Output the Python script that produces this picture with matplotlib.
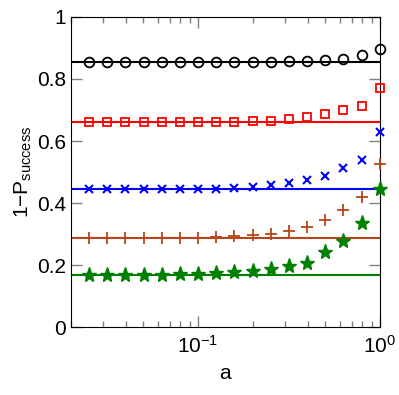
import numpy as np
import matplotlib
matplotlib.use("Agg")
import matplotlib.pyplot as plt

plt.rcParams['font.family'] = ['Liberation Sans', 'DejaVu Sans']
plt.rcParams['mathtext.fontset'] = 'custom'
plt.rcParams['mathtext.rm'] = 'Liberation Sans'

# sample points a = 10^-1.6 ... 10^0
a = [0.0251, 0.0316, 0.0398, 0.0501, 0.0631, 0.0794, 0.1, 0.1259, 0.1585,
     0.1995, 0.2512, 0.3162, 0.3981, 0.5012, 0.631, 0.7943, 1.0]

circles = [0.855, 0.855, 0.855, 0.855, 0.855, 0.855, 0.855, 0.855, 0.855,
           0.855, 0.855, 0.858, 0.859, 0.861, 0.866, 0.877, 0.897]
squares = [0.661, 0.661, 0.661, 0.661, 0.661, 0.661, 0.661, 0.661, 0.662,
           0.663, 0.665, 0.670, 0.678, 0.687, 0.699, 0.713, 0.772]
crosses = [0.444, 0.444, 0.444, 0.444, 0.444, 0.444, 0.444, 0.445, 0.448,
           0.452, 0.457, 0.464, 0.473, 0.487, 0.512, 0.539, 0.628]
pluses = [0.286, 0.286, 0.286, 0.286, 0.286, 0.286, 0.287, 0.289, 0.293,
          0.296, 0.301, 0.309, 0.322, 0.346, 0.377, 0.420, 0.525]
stars = [0.168, 0.168, 0.168, 0.168, 0.168, 0.170, 0.171, 0.173, 0.176,
         0.181, 0.186, 0.197, 0.206, 0.241, 0.278, 0.336, 0.445]

limits = [0.855, 0.661, 0.444, 0.286, 0.169]
colors = ['black', '#ff0000', '#0000ff', '#b8441a', '#008000']

fig = plt.figure(figsize=(3.99, 3.95), dpi=100)
ax = fig.add_axes([0.178, 0.172, 0.774, 0.785])

for y, c in zip(limits, colors):
    ax.axhline(y, color=c, lw=1.5, zorder=1)

ax.plot(a, circles, 'o', mfc='none', mec=colors[0], ms=7, mew=1.3, zorder=3, clip_on=False)
ax.plot(a, squares, 's', mfc='none', mec=colors[1], ms=6, mew=1.3, zorder=3, clip_on=False)
ax.plot(a, crosses, 'x', color=colors[2], ms=6, mew=1.5, zorder=3, clip_on=False)
ax.plot(a, pluses, '+', color=colors[3], ms=8, mew=1.3, zorder=3, clip_on=False)
ax.plot(a, stars, '*', color=colors[4], ms=11, mew=1.0, zorder=3, clip_on=False)

ax.set_xscale('log')
ax.set_xlim(0.02, 1)
ax.set_ylim(0, 1)
ax.set_yticks([0, 0.2, 0.4, 0.6, 0.8, 1])
ax.set_yticklabels(['0', '0.2', '0.4', '0.6', '0.8', '1'])
ax.set_xticks([0.1, 1])
ax.set_xticklabels([r'$\mathregular{10^{-1}}$', r'$\mathregular{10^{0}}$'])

ax.tick_params(which='both', direction='in', top=True, right=True,
               color='#808080', labelsize=15)
ax.tick_params(which='major', length=8, width=1)
ax.tick_params(which='minor', length=4, width=1)
ax.tick_params(axis='x', pad=6)

ax.set_xlabel('a', fontsize=15, labelpad=5)
ax.set_ylabel(r'1$-$P$_{\mathregular{success}}$', fontsize=15, labelpad=2)

fig.savefig('out.png', dpi=100)
